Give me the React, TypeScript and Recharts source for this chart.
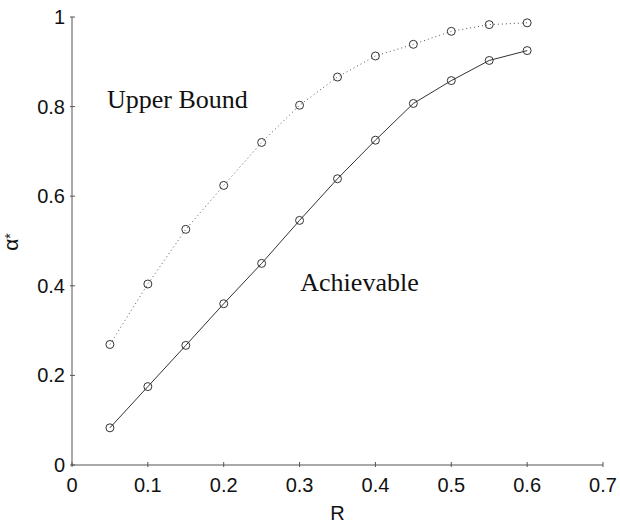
import React from "react";
import {
  LineChart,
  Line,
  XAxis,
  YAxis,
  ReferenceDot,
} from "recharts";

const rates = [0.05, 0.1, 0.15, 0.2, 0.25, 0.3, 0.35, 0.4, 0.45, 0.5, 0.55, 0.6];
const upperBound = [0.269, 0.404, 0.526, 0.624, 0.72, 0.803, 0.866, 0.913, 0.939, 0.968, 0.983, 0.987];
const achievable = [0.083, 0.175, 0.267, 0.36, 0.45, 0.546, 0.639, 0.725, 0.807, 0.858, 0.903, 0.925];
const xTicks = [0, 0.1, 0.2, 0.3, 0.4, 0.5, 0.6, 0.7];
const yTicks = [0, 0.2, 0.4, 0.6, 0.8, 1];

const chartData = rates.map((r, i) => ({ r, upper: upperBound[i], ach: achievable[i] }));

const AXIS = "#555";
const INK = "#333";
const SANS = "'Liberation Sans', Arial, sans-serif";
const SERIF = "'Liberation Serif', 'Times New Roman', serif";

const fmt = (v: number) => (v === 0 || v === 1 ? String(v) : v.toFixed(1));

function XTick(props: any) {
  const { x, y, payload } = props;
  return (
    <g>
      <line x1={x} y1={y} x2={x} y2={y - 5} stroke={AXIS} />
      <text x={x} y={y + 25} textAnchor="middle" fontSize={20} fontFamily={SANS} fill="#111">
        {fmt(payload.value)}
      </text>
    </g>
  );
}

function YTick(props: any) {
  const { x, y, payload } = props;
  return (
    <g>
      <line x1={x} y1={y} x2={x + 5} y2={y} stroke={AXIS} />
      <text x={x - 5} y={y + 7} textAnchor="end" fontSize={20} fontFamily={SANS} fill="#111">
        {fmt(payload.value)}
      </text>
    </g>
  );
}

const circleDot = (props: any) => (
  <circle key={props.index} cx={props.cx} cy={props.cy} r={4} fill="none" stroke={INK} strokeWidth={1} />
);

function Note(text: string) {
  return (props: any) => {
    const { viewBox } = props;
    return (
      <text x={viewBox.x} y={viewBox.y + 8} textAnchor="middle" fontSize={26} fontFamily={SERIF} fill="#111">
        {text}
      </text>
    );
  };
}

function AlphaLabel(props: any) {
  const { viewBox } = props;
  const cx = 18;
  const cy = viewBox.y + viewBox.height / 2 + 1;
  return (
    <text transform={`translate(${cx},${cy}) rotate(-90)`} textAnchor="middle" fontSize={21} fontFamily={SANS} fill="#111">
      α<tspan dy={-3} fontSize={14}>*</tspan>
    </text>
  );
}

export default function App() {
  return (
    <div style={{ position: "absolute", left: 0, top: 0, width: 620, height: 523, background: "#fff" }}>
      <LineChart width={620} height={523} data={chartData} margin={{ top: 17, right: 17, bottom: 0, left: 0 }}>
        <XAxis
          dataKey="r"
          type="number"
          domain={[0, 0.7]}
          ticks={xTicks}
          height={58}
          stroke={AXIS}
          tickLine={false}
          tickSize={0}
          tick={<XTick />}
          label={{ value: "R", position: "insideBottom", offset: 0, dy: -3, fontSize: 20, fontFamily: SANS, fill: "#111" }}
        />
        <YAxis
          type="number"
          domain={[0, 1]}
          ticks={yTicks}
          width={72}
          stroke={AXIS}
          tickLine={false}
          tickSize={0}
          tick={<YTick />}
          label={<AlphaLabel />}
        />
        <Line
          dataKey="upper"
          stroke="#555"
          strokeWidth={1}
          strokeDasharray="1 3"
          dot={circleDot}
          isAnimationActive={false}
        />
        <Line dataKey="ach" stroke={INK} strokeWidth={1} dot={circleDot} isAnimationActive={false} />
        <ReferenceDot x={0.139} y={0.814} r={0} fill="none" stroke="none" label={Note("Upper Bound")} />
        <ReferenceDot x={0.379} y={0.406} r={0} fill="none" stroke="none" label={Note("Achievable")} />
      </LineChart>
    </div>
  );
}
